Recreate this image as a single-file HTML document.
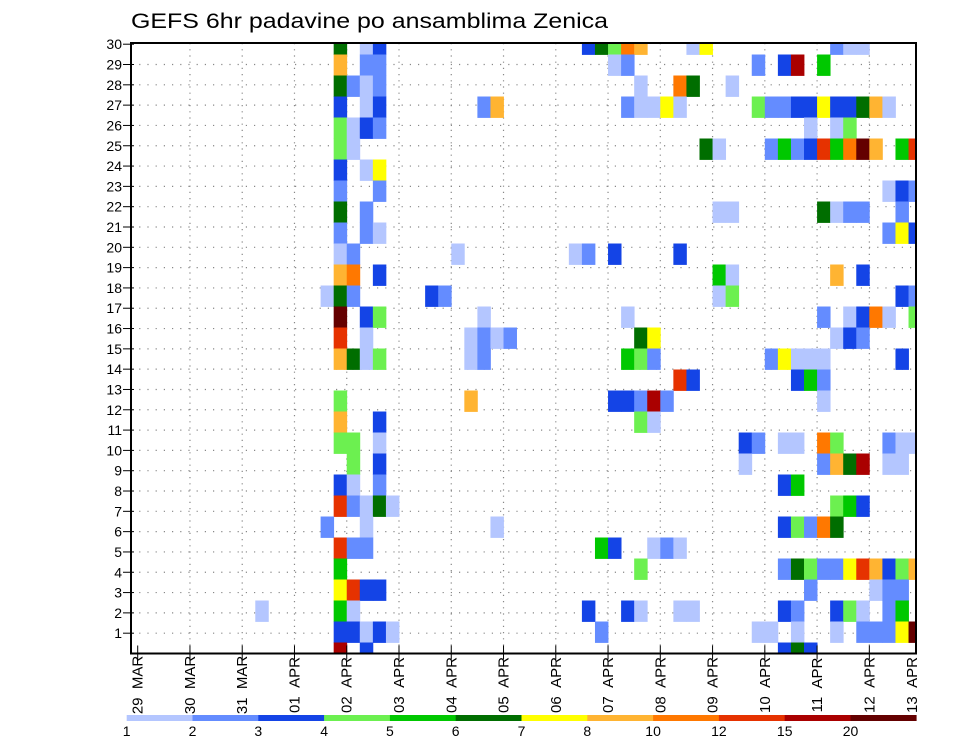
<!DOCTYPE html>
<html><head><meta charset="utf-8"><style>
html,body{margin:0;padding:0;background:#fff;}
svg{display:block;font-family:"Liberation Sans",sans-serif;}
</style></head><body>
<svg id="chart" width="960" height="742" viewBox="0 0 960 742" xmlns="http://www.w3.org/2000/svg">
<rect x="0" y="0" width="960" height="742" fill="#fff"/>
<text x="131" y="28" font-size="21" textLength="477" lengthAdjust="spacingAndGlyphs" fill="#000">GEFS 6hr padavine po ansamblima Zenica</text>
<defs><clipPath id="plotclip"><rect x="131" y="43" width="785" height="610.5"/></clipPath></defs>
<g id="grid"></g>
<g id="cells" clip-path="url(#plotclip)"></g>
<rect x="131" y="43" width="785" height="610.5" fill="none" stroke="#000" stroke-width="2"/>
<g id="axes"></g>
<g id="legend"></g>
</svg>
<script>
// ---- data ----
const dayLabels = ["29 MAR","30 MAR","31 MAR","01 APR","02 APR","03 APR","04 APR","05 APR","06 APR","07 APR","08 APR","09 APR","10 APR","11 APR","12 APR","13 APR"];
const memberLabels = [1,2,3,4,5,6,7,8,9,10,11,12,13,14,15,16,17,18,19,20,21,22,23,24,25,26,27,28,29,30];
const levels = [1,2,3,4,5,6,7,8,10,12,15,20];
const levelColors = ["#b4c6ff","#648cff","#1444e6","#6cf050","#00c800","#006e00","#ffff00","#ffb432","#ff7800","#e63200","#aa0000","#640000"];
// precip per band (top band first): [timeStep, mm]
const precip = [
[[15,6.5],[17,1.5],[18,3.5],[34,3.5],[35,6.5],[36,4.5],[37,11],[38,9],[42,1.5],[43,7.5],[53,2.5],[54,1.5],[55,1.5]],
[[15,9],[17,2.5],[18,2.5],[36,1.5],[37,2.5],[47,2.5],[49,3.5],[50,17],[52,5.5]],
[[15,6.5],[16,2.5],[17,1.5],[18,2.5],[38,1.5],[41,11],[42,6.5],[45,1.5]],
[[15,3.5],[17,1.5],[18,3.5],[26,2.5],[27,9],[37,2.5],[38,1.5],[39,1.5],[40,7.5],[41,1.5],[47,4.5],[48,2.5],[49,2.5],[50,3.5],[51,3.5],[52,7.5],[53,3.5],[54,3.5],[55,6.5],[56,9],[57,1.5]],
[[15,4.5],[16,1.5],[17,3.5],[18,2.5],[51,1.5],[53,1.5],[54,4.5]],
[[15,4.5],[16,1.5],[43,6.5],[44,1.5],[48,2.5],[49,5.5],[50,2.5],[51,3.5],[52,13.5],[53,5.5],[54,11],[55,25],[56,9],[58,5.5],[59,13.5]],
[[15,3.5],[17,1.5],[18,7.5]],
[[15,2.5],[18,2.5],[57,1.5],[58,3.5],[59,2.5]],
[[15,6.5],[17,2.5],[44,1.5],[45,1.5],[52,6.5],[53,1.5],[54,2.5],[55,2.5],[58,2.5]],
[[15,2.5],[17,2.5],[18,1.5],[57,2.5],[58,7.5],[59,3.5]],
[[15,1.5],[16,2.5],[24,1.5],[33,1.5],[34,2.5],[36,3.5],[41,3.5]],
[[15,9],[16,11],[18,3.5],[44,5.5],[45,1.5],[53,9],[55,3.5]],
[[14,1.5],[15,6.5],[16,2.5],[22,3.5],[23,2.5],[44,1.5],[45,4.5],[58,3.5],[59,2.5]],
[[15,25],[17,3.5],[18,4.5],[26,1.5],[37,1.5],[52,2.5],[54,1.5],[55,3.5],[56,11],[57,1.5],[59,4.5]],
[[15,13.5],[17,1.5],[25,1.5],[26,2.5],[27,1.5],[28,2.5],[38,6.5],[39,7.5],[53,1.5],[54,3.5],[55,2.5]],
[[15,9],[16,6.5],[17,1.5],[18,4.5],[25,1.5],[26,2.5],[37,5.5],[38,4.5],[39,2.5],[48,2.5],[49,7.5],[50,1.5],[51,1.5],[52,1.5],[58,3.5]],
[[41,13.5],[42,3.5],[50,3.5],[51,5.5],[52,2.5]],
[[15,4.5],[25,9],[36,3.5],[37,3.5],[38,2.5],[39,17],[40,2.5],[52,1.5]],
[[15,9],[18,3.5],[38,4.5],[39,1.5]],
[[15,4.5],[16,4.5],[18,1.5],[46,3.5],[47,2.5],[49,1.5],[50,1.5],[52,11],[53,4.5],[57,2.5],[58,1.5],[59,1.5]],
[[16,4.5],[18,3.5],[46,1.5],[52,2.5],[53,9],[54,6.5],[55,17],[57,1.5],[58,1.5]],
[[15,3.5],[16,1.5],[18,2.5],[49,3.5],[50,5.5]],
[[15,13.5],[16,2.5],[17,1.5],[18,6.5],[19,1.5],[53,4.5],[54,5.5],[55,3.5]],
[[14,2.5],[17,1.5],[27,1.5],[49,3.5],[50,4.5],[51,2.5],[52,11],[53,6.5]],
[[15,13.5],[16,2.5],[17,2.5],[35,5.5],[36,3.5],[39,1.5],[40,2.5],[41,1.5]],
[[15,5.5],[38,4.5],[49,2.5],[50,6.5],[51,4.5],[52,2.5],[53,2.5],[54,7.5],[55,13.5],[56,9],[57,3.5],[58,4.5],[59,9]],
[[15,7.5],[16,13.5],[17,3.5],[18,3.5],[51,2.5],[56,1.5],[57,2.5],[58,2.5]],
[[9,1.5],[15,5.5],[16,1.5],[34,3.5],[37,3.5],[38,1.5],[41,1.5],[42,1.5],[49,3.5],[50,2.5],[53,3.5],[54,4.5],[55,1.5],[57,2.5],[58,5.5]],
[[15,3.5],[16,3.5],[17,1.5],[18,3.5],[19,1.5],[35,2.5],[47,1.5],[48,1.5],[50,1.5],[53,1.5],[55,2.5],[56,2.5],[57,2.5],[58,7.5],[59,25]],
[[15,17],[17,3.5],[49,3.5],[50,6.5],[51,3.5]]
];
// ---- scales ----
const NS="http://www.w3.org/2000/svg";
const PL=131, PR=916, PT=43, PB=653.5;
const stepW=13.065;
function xStep(t){return 137.7+stepW*t;}
function yBand(b){return 44+b*21-10.5;}
function yMember(k){return PB-k*20.31;}
function colorFor(v){let c=null;for(let i=0;i<levels.length;i++){if(v>=levels[i])c=levelColors[i];}return c;}
function mk(tag,attrs,parent){const e=document.createElementNS(NS,tag);for(const k in attrs)e.setAttribute(k,attrs[k]);parent.appendChild(e);return e;}
const gGrid=document.getElementById('grid'),gCells=document.getElementById('cells'),gAxes=document.getElementById('axes'),gLeg=document.getElementById('legend');
// grid lines
for(let k=1;k<30;k++){const y=yMember(k);
 const l=mk('line',{x1:PL,x2:PR,y1:y,y2:y,stroke:'#888','stroke-width':1.2,'stroke-dasharray':'1.2,7'},gGrid);
 
 }
for(let d=1;d<15;d++){const x=xStep(4*d);
 const l=mk('line',{x1:x,x2:x,y1:PT,y2:PB,stroke:'#888','stroke-width':1.2,'stroke-dasharray':'1.2,5'},gGrid);
 
 }
// cells
precip.forEach((row,b)=>{row.forEach(([t,v])=>{const c=colorFor(v);if(!c)return;
 const r=mk('rect',{x:xStep(t),y:yBand(b),width:stepW+0.4,height:21.4,fill:c},gCells);
 
 });});
// y axis
memberLabels.forEach(k=>{const y=yMember(k);
 const tk=mk('line',{x1:123,x2:PL+3,y1:y,y2:y,stroke:'#000','stroke-width':1},gAxes);
 
 
 const t=mk('text',{x:122,y:y+5,'font-size':14,'text-anchor':'end',fill:'#000'},gAxes);
 t.textContent=k;
 
 });
// x axis
dayLabels.forEach((lab,d)=>{let x=xStep(4*d);
 if(d<15){const tk=mk('line',{x1:x,x2:x,y1:PB-8,y2:PB+6,stroke:'#000','stroke-width':1},gAxes);
  
  }
 if(x>912)x=912;
 const t=mk('text',{x:0,y:0,'font-size':15,'text-anchor':'middle',transform:'translate('+(x+5)+',685) rotate(-90)',fill:'#000','xml:space':'preserve'},gAxes);
 t.textContent=lab.replace(' ','\u00a0\u00a0');
 
 });
// legend
const LX=126.7, LW=65.8;
levelColors.forEach((c,i)=>{const r=mk('rect',{x:LX+i*LW,y:715,width:LW+0.3,height:6,fill:c},gLeg);
 
 });
levels.forEach((v,i)=>{const t=mk('text',{x:LX+i*LW,y:736,'font-size':14,'text-anchor':'middle',fill:'#000'},gLeg);
 t.textContent=v;
 
 });
</script>
</body></html>
